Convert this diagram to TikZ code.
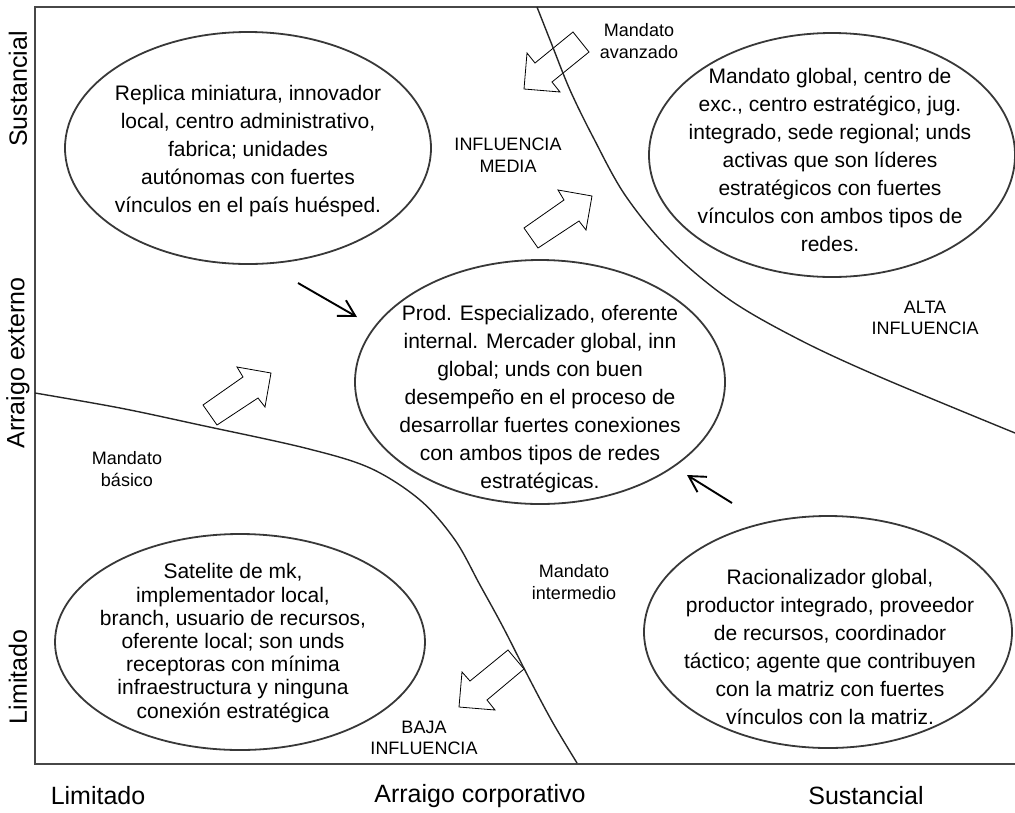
\documentclass[tikz,border=0pt]{standalone}
\usepackage{fontspec}
\setmainfont{Liberation Sans}
\usetikzlibrary{arrows.meta,shapes.geometric}
\begin{document}
\begin{tikzpicture}[x=1pt,y=-1pt,
  frameline/.style={draw=black!72, line width=2pt},
  bubble/.style={ellipse, draw=black!78, line width=1.8pt, inner sep=0pt},
  divider/.style={draw=black!85, line width=1.4pt},
  blockarrow/.style={draw=black, fill=white, line width=0.8pt, line join=miter},
  pointer/.style={draw=black, line width=1.9pt,
    -{Straight Barb[length=16pt,width=18pt,line width=1.9pt]}},
  celltext/.style={align=center, font=\fontsize{21}{28}\selectfont},
  zonetext/.style={align=center, font=\fontsize{18}{21.5}\selectfont},
  axistext/.style={font=\fontsize{25}{30}\selectfont}
]
\useasboundingbox (0,0) rectangle (1015,812);

% frame of the matrix (open on the right)
\coordinate (ftr) at (1015,7);
\coordinate (ftl) at (35,7);
\coordinate (fbl) at (35,764);
\coordinate (fbr) at (1015,764);
\draw[frameline] (ftr) -- (ftl) -- (fbl) -- (fbr);

% the five quadrant bubbles
\node[bubble, minimum width=366, minimum height=232] (tl) at (248,148) {};
\node[bubble, minimum width=366, minimum height=244] (tr) at (832,155) {};
\node[bubble, minimum width=370, minimum height=244] (mid) at (540,382) {};
\node[bubble, minimum width=370, minimum height=216] (bl) at (240,642) {};
\node[bubble, minimum width=368, minimum height=232] (br) at (828,632) {};

\node[celltext] (tltext) at (248,151) {Replica miniatura, innovador\\local, centro administrativo,\\fabrica; unidades\\autónomas con fuertes\\vínculos en el país huésped.};
\node[celltext] (trtext) at (830,160) {Mandato global, centro de\\exc., centro estratégico, jug.\\integrado, sede regional; unds\\activas que son líderes\\estratégicos con fuertes\\vínculos con ambos tipos de\\redes.};
\node[celltext] (midtext) at (540,399) {Prod. Especializado, oferente\\internal. Mercader global, inn\\global; unds con buen\\desempeño en el proceso de\\desarrollar fuertes conexiones\\con ambos tipos de redes\\estratégicas.};
\node[celltext, font=\fontsize{21}{23.2}\selectfont] (bltext) at (233,643) {Satelite de mk,\\implementador local,\\branch, usuario de recursos,\\oferente local; son unds\\receptoras con mínima\\infraestructura y ninguna\\conexión estratégica};
\node[celltext] (brtext) at (830,647) {Racionalizador global,\\productor integrado, proveedor\\de recursos, coordinador\\táctico; agente que contribuyen\\con la matriz con fuertes\\vínculos con la matriz.};

% block arrows between influence zones
\draw[blockarrow] (573,32) -- (589,52) -- (552,82) -- (560,92) -- (524,89) -- (527,53) -- (535,63) -- cycle;
\draw[blockarrow] (524,228) -- (538,248) -- (579,221) -- (586,230) -- (592,196) -- (558,190) -- (564,200) -- cycle;
\draw[blockarrow] (203,405) -- (217,425) -- (258,398) -- (265,407) -- (271,373) -- (237,367) -- (243,377) -- cycle;
\draw[blockarrow] (508,650) -- (524,669) -- (487,700) -- (495,710) -- (459,707) -- (462,672) -- (470,681) -- cycle;

% zone boundaries
\draw[divider] plot[smooth, tension=0.55] coordinates {(537,7) (552,45) (570,90) (593,137) (625,195) (670,250) (730,300) (800,340) (880,377) (1015,433)};
\draw[divider] plot[smooth, tension=0.55] coordinates {(35,393) (120,408) (200,425) (305,448) (370,468) (420,500) (455,540) (480,585) (503,627) (530,680) (553,723) (577,763)};

% pointers towards the central bubble
\coordinate (p1s) at (298,283);
\coordinate (p1e) at (357,317);
\coordinate (p2s) at (732,503);
\coordinate (p2e) at (687,475);
\draw[pointer] (p1s) -- (p1e);
\draw[pointer] (p2s) -- (p2e);

% zone labels
\node[zonetext] (lavanz) at (639,41) {Mandato\\avanzado};
\node[zonetext] (lmedia) at (508,155) {INFLUENCIA\\MEDIA};
\node[zonetext] (lalta) at (925,318) {ALTA\\INFLUENCIA};
\node[zonetext] (lbasico) at (127,469) {Mandato\\básico};
\node[zonetext] (linter) at (574,582) {Mandato\\intermedio};
\node[zonetext] (lbaja) at (424,738) {BAJA\\INFLUENCIA};

% axis labels
\node[axistext, rotate=90] (ysus) at (18,89) {Sustancial};
\node[axistext, rotate=90] (yarr) at (18,363) {Arraigo externo};
\node[axistext, rotate=90] (ylim) at (18,677) {Limitado};
\node[axistext] (xlim) at (98,796) {Limitado};
\node[axistext] (xarr) at (480,796) {Arraigo corporativo};
\node[axistext] (xsus) at (866,796) {Sustancial};
\end{tikzpicture}
\end{document}
